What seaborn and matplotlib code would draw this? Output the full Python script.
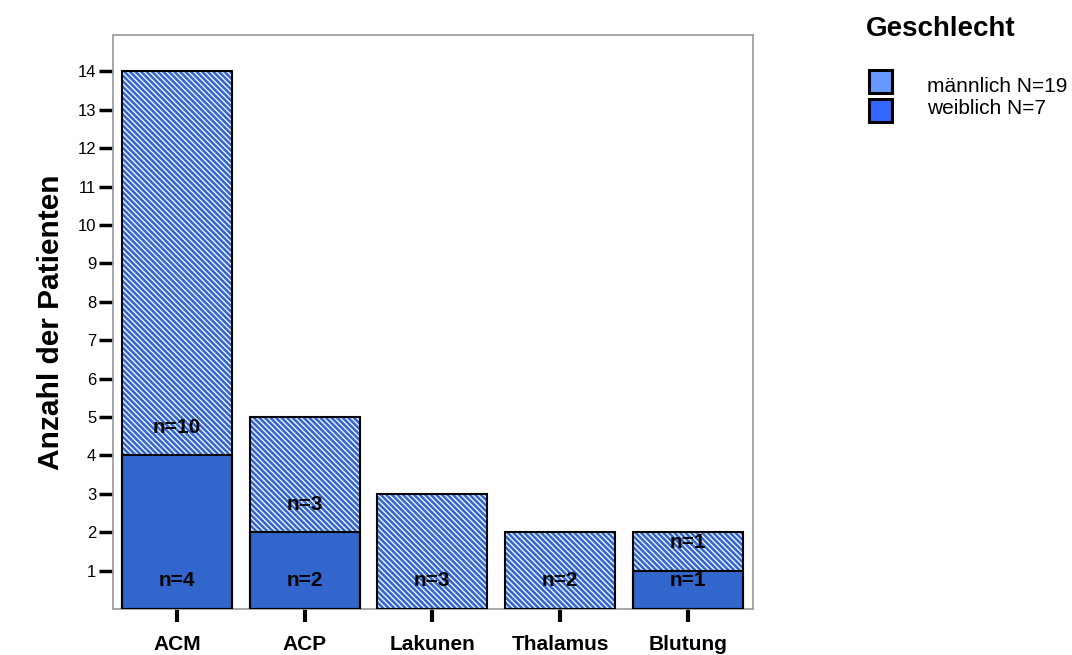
import numpy as np
import pandas as pd
import matplotlib
matplotlib.use("Agg")
import matplotlib.pyplot as plt
import seaborn as sns
from matplotlib.patches import Rectangle

# Daten
kategorien = ["ACM", "ACP", "Lakunen", "Thalamus", "Blutung"]
maennlich = [10, 3, 3, 2, 1]
weiblich = [4, 2, 0, 0, 1]
legende_labels = ["männlich N=19", "weiblich N=7"]
legende_farben = ["#6699ff", "#3366ff"]

df = pd.DataFrame({"kategorie": kategorien, "maennlich": maennlich, "weiblich": weiblich})
df["gesamt"] = df["maennlich"] + df["weiblich"]

sns.set_style("white")
plt.rcParams["font.family"] = ["Liberation Sans", "DejaVu Sans"]
plt.rcParams["hatch.linewidth"] = 1.0
plt.rcParams["text.color"] = "black"
plt.rcParams["axes.labelcolor"] = "black"
plt.rcParams["xtick.color"] = "black"
plt.rcParams["ytick.color"] = "black"

fig = plt.figure(figsize=(10.72, 6.55), dpi=100)
ax = fig.add_axes([0.1054, 0.0702, 0.597, 0.8764])

# Gesamtbalken (schraffiert = männlich)
sns.barplot(x="kategorie", y="gesamt", data=df, order=kategorien, color="#3366cc",
            width=0.86, saturation=1, ax=ax)
for p in ax.patches:
    p.set_hatch("\\\\\\\\\\\\")
    p.set_edgecolor("#f0f4ff")
    p.set_linewidth(0)
n_ges = len(ax.patches)

# Weiblich unten, voll
sns.barplot(x="kategorie", y="weiblich", data=df, order=kategorien, color="#3366cc",
            width=0.86, saturation=1, ax=ax)
for p in ax.patches[n_ges:]:
    p.set_edgecolor("black")
    p.set_linewidth(1.5)

# schwarze Umrandung der Gesamtbalken
for i, g in enumerate(df["gesamt"]):
    ax.bar(i, g, width=0.86, fill=False, edgecolor="black", linewidth=1.5, zorder=3)

# Beschriftungen n=...
for i, (m, w) in enumerate(zip(df["maennlich"], df["weiblich"])):
    if w > 0:
        ax.text(i, 0.73, f"n={w}", ha="center", va="center", fontsize=15, fontweight="bold", zorder=4)
    if m > 0:
        ax.text(i, w + 0.73, f"n={m}", ha="center", va="center", fontsize=15, fontweight="bold", zorder=4)

ax.set_xlim(-0.5, 4.51)
ax.set_ylim(0, 14.95)
ax.set_yticks(range(1, 15))
ax.set_xlabel("")
ax.set_ylabel("Anzahl der Patienten", fontsize=21.5, fontweight="bold")
ax.yaxis.set_label_coords(-0.075, 0.5)
ax.tick_params(axis="y", direction="out", length=10, width=2.5, labelsize=12, pad=2, left=True)
ax.tick_params(axis="x", direction="out", length=9, width=3, labelsize=15, pad=10, bottom=True)
for lab in ax.get_xticklabels():
    lab.set_fontweight("bold")
for s in ax.spines.values():
    s.set_color("#a0a0a0")
    s.set_linewidth(1.3)
    s.set_visible(True)

# Legende
fig.text(866 / 1072, 1 - 29 / 655, "Geschlecht", fontsize=20, fontweight="bold", ha="left", va="center")
for k, (lab, farbe) in enumerate(zip(legende_labels, legende_farben)):
    top = 70 + k * 29
    fig.add_artist(Rectangle((869 / 1072, 1 - (top + 23) / 655), 23 / 1072, 23 / 655,
                             transform=fig.transFigure, facecolor=farbe, edgecolor="black", linewidth=2.2))
    fig.text(927 / 1072, 1 - (86 + k * 23) / 655, lab, fontsize=15, ha="left", va="center")

fig.savefig("out.png", dpi=100)
